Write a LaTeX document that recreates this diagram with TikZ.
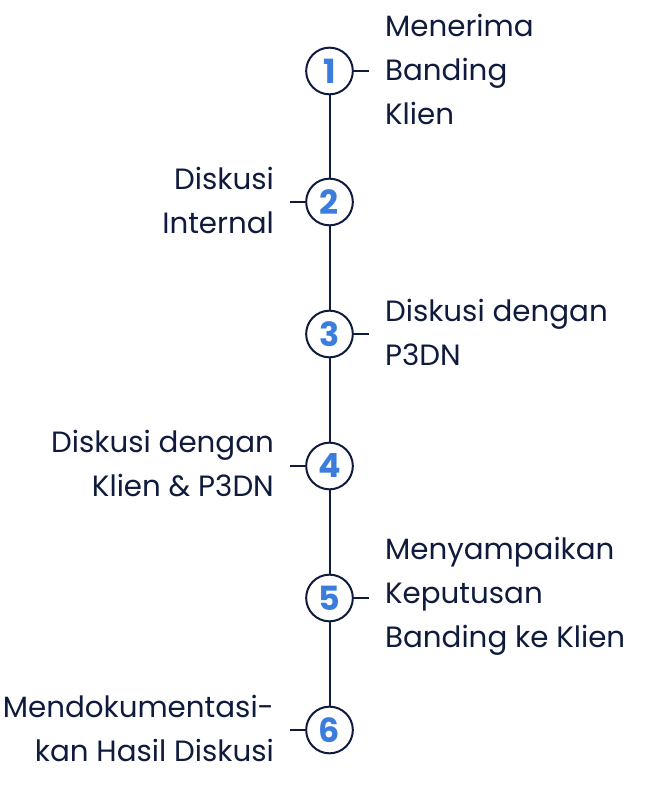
\documentclass[tikz,border=0pt]{standalone}
\usepackage{fontspec}
\setmainfont{Poppins}
\usepackage{xcolor}
\usetikzlibrary{positioning}

\definecolor{navy}{HTML}{0F1B3D}
\definecolor{stepblue}{HTML}{3B7DDD}

\begin{document}
\begin{tikzpicture}[
    x=0.75pt, y=0.75pt,
    node distance=12pt,
    num/.style={draw=navy, line width=1.5pt, circle, minimum size=35pt, inner sep=0pt,
        font=\fontsize{25}{25}\selectfont\bfseries, text=stepblue},
    lbl/.style={inner sep=0pt, text=navy, font=\fontsize{22}{33}\selectfont, yshift=1.5pt},
    rlbl/.style={lbl, align=left},
    llbl/.style={lbl, align=right},
    conn/.style={draw=navy, line width=1.5pt},
]
\useasboundingbox (0,0) rectangle (656,794);

% Steps
\node[num] (s1) at (329.5,723) {1};
\node[num] (s2) at (329.5,592) {2};
\node[num] (s3) at (329.5,460) {3};
\node[num] (s4) at (329.5,328) {4};
\node[num] (s5) at (329.5,196) {5};
\node[num] (s6) at (329.5,64) {6};

% Timeline
\foreach \a/\b in {s1/s2, s2/s3, s3/s4, s4/s5, s5/s6}
    \draw[conn] (\a) -- (\b);

% Ticks
\foreach \s in {s1, s3, s5}
    \draw[conn] (\s.east) -- ++(15,0) coordinate (t\s);
\foreach \s in {s2, s4, s6}
    \draw[conn] (\s.west) -- ++(-15,0) coordinate (t\s);

% Labels
\node[rlbl, right=of ts1, anchor=west] (l1) {Menerima\\Banding\\Klien};
\node[llbl, left=of ts2, anchor=east] (l2) {Diskusi\\Internal};
\node[rlbl, right=of ts3, anchor=west] (l3) {Diskusi dengan\\P3DN};
\node[llbl, left=of ts4, anchor=east] (l4) {Diskusi dengan\\Klien \& P3DN};
\node[rlbl, right=of ts5, anchor=west] (l5) {Menyampaikan\\Keputusan\\Banding ke Klien};
\node[llbl, left=of ts6, anchor=east] (l6) {Mendokumentasi-\\kan Hasil Diskusi};

\end{tikzpicture}
\end{document}
